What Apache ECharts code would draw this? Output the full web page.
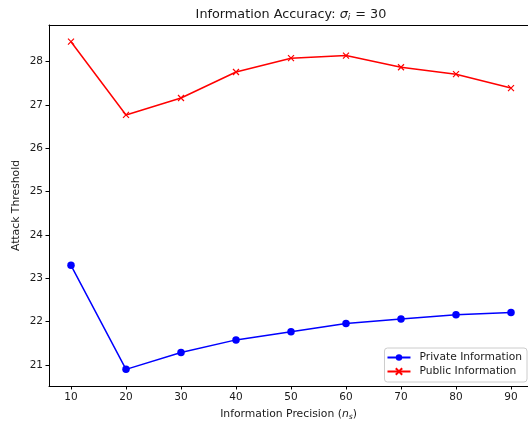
<!DOCTYPE html>
<html>
<head>
<meta charset="utf-8">
<script src="https://cdn.jsdelivr.net/npm/echarts@6/dist/echarts.min.js"></script>
<style>
  html, body { margin: 0; padding: 0; background: #fff; }
  #chart { width: 528px; height: 426px; }
</style>
</head>
<body>
<div id="chart"></div>
<script>
// Information precision levels (x) and the attack thresholds for each regime
const precision = [10, 20, 30, 40, 50, 60, 70, 80, 90];
const privateInfo = [23.30, 20.90, 21.29, 21.58, 21.77, 21.96, 22.06, 22.16, 22.21];
const publicInfo = [28.46, 26.77, 27.16, 27.76, 28.08, 28.14, 27.87, 27.71, 27.39];
const xTicks = [10, 20, 30, 40, 50, 60, 70, 80, 90];
const yTicks = [21, 22, 23, 24, 25, 26, 27, 28];

const FONT = 'DejaVu Sans';
const TXT = '#1a1a1a';
const crossPath = 'path://M0,0L10,10M10,0L0,10';

const chart = echarts.init(document.getElementById('chart'), null, { renderer: 'canvas' });

chart.setOption({
  animation: false,
  backgroundColor: '#fff',
  title: {
    text: '{a|Information Accuracy: }{s|σ}{sub|i}{a| = 30}',
    left: 286,
    top: 2,
    textAlign: 'center',
    textStyle: {
      rich: {
        a: { fontFamily: FONT, fontSize: 12.8, fontWeight: 'normal', color: TXT },
        s: { fontFamily: FONT, fontSize: 12.8, fontWeight: 'normal', color: TXT, fontStyle: 'italic' },
        sub: { fontFamily: FONT, fontSize: 9, fontWeight: 'normal', color: TXT, fontStyle: 'italic', padding: [6, 1, 0, 0] }
      }
    }
  },
  grid: {
    left: 49, top: 25, right: 0, bottom: 39
  },
  legend: {
    orient: 'vertical',
    right: 1,
    bottom: 44,
    itemWidth: 23,
    itemHeight: 8,
    itemGap: 3,
    padding: [4, 5, 5, 2],
    backgroundColor: 'rgba(255,255,255,0.85)',
    borderColor: '#cccccc',
    borderWidth: 1,
    borderRadius: 3,
    textStyle: { fontFamily: FONT, fontSize: 10.7, color: TXT, padding: [0, 0, 0, 4] },
    data: ['Private Information', 'Public Information']
  },
  xAxis: [
    {
      type: 'value',
      min: 6, max: 93.09,
      name: '{a|Information Precision (}{n|n}{sub|s}{a|)}',
      nameLocation: 'middle',
      nameGap: 22,
      nameMoveOverlap: false,
      nameTextStyle: {
        rich: {
          a: { fontFamily: FONT, fontSize: 10.8, color: TXT },
          n: { fontFamily: FONT, fontSize: 10.8, color: TXT, fontStyle: 'italic' },
          sub: { fontFamily: FONT, fontSize: 7.5, color: TXT, fontStyle: 'italic', padding: [5, 0, 0, 0] }
        }
      },
      axisLine: { show: true, onZero: false, lineStyle: { color: '#000', width: 1 } },
      axisTick: { show: true, length: 3.5, customValues: xTicks, lineStyle: { color: '#000' } },
      axisLabel: { customValues: xTicks, fontFamily: FONT, fontSize: 10.5, color: TXT, margin: 6 },
      splitLine: { show: false }
    },
    {
      // top frame line only
      type: 'value',
      position: 'top',
      min: 6, max: 93.09,
      axisLine: { show: true, onZero: false, lineStyle: { color: '#000', width: 1 } },
      axisTick: { show: false },
      axisLabel: { show: false },
      splitLine: { show: false }
    }
  ],
  yAxis: {
    type: 'value',
    min: 20.516, max: 28.845,
    name: 'Attack Threshold',
    nameLocation: 'middle',
    nameGap: 27,
    nameMoveOverlap: false,
    nameTextStyle: { fontFamily: FONT, fontSize: 10.8, color: TXT },
    axisLine: { show: true, onZero: false, lineStyle: { color: '#000', width: 1 } },
    axisTick: { show: true, length: 3.5, customValues: yTicks, lineStyle: { color: '#000' } },
    axisLabel: { customValues: yTicks, fontFamily: FONT, fontSize: 10.5, color: TXT, margin: 6 },
    splitLine: { show: false }
  },
  series: [
    {
      name: 'Private Information',
      type: 'line',
      xAxisIndex: 0,
      data: precision.map((x, i) => [x, privateInfo[i]]),
      symbol: 'circle',
      symbolSize: 7.5,
      lineStyle: { color: '#0000ff', width: 1.5 },
      itemStyle: { color: '#0000ff' }
    },
    {
      name: 'Public Information',
      type: 'line',
      xAxisIndex: 0,
      data: precision.map((x, i) => [x, publicInfo[i]]),
      symbol: crossPath,
      symbolSize: 6,
      lineStyle: { color: '#ff0000', width: 1.5 },
      itemStyle: { color: '#ff0000', borderColor: '#ff0000', borderWidth: 1.2 }
    }
  ]
});
</script>
</body>
</html>
